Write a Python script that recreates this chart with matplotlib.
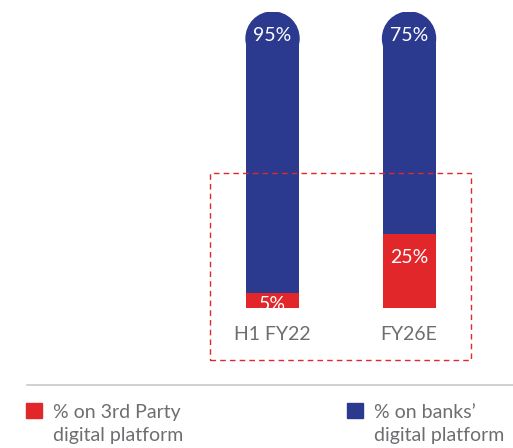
import matplotlib
matplotlib.use("Agg")
import matplotlib.pyplot as plt
from matplotlib.patches import Ellipse, Rectangle
from matplotlib.lines import Line2D

categories = ["H1 FY22", "FY26E"]
third_party = [5, 25]
banks = [95, 75]
legend_labels = ["% on 3rd Party\ndigital platform", "% on banks’\ndigital platform"]

RED = "#e1272a"
BLUE = "#2b3a8f"
GRAY = "#6d6e71"
plt.rcParams["font.family"] = ["Lato", "DejaVu Sans"]

W, H = 513, 448
fig = plt.figure(figsize=(W / 100, H / 100), dpi=100)
# axes box in pixels: x 210..471, y 12..308
ax = fig.add_axes([210 / W, (H - 308) / H, (471 - 210) / W, (308 - 12) / H])
ax.set_xlim(-0.458, 1.454)
ax.set_ylim(0, 100)
bw = 53 / 136.5
# radius of the rounded top in data units (half bar width in pixels)
r_data = (53 / 2) / (296 / 100)

x = list(range(len(categories)))
ax.bar(x, third_party, width=bw, color=RED, zorder=2)
tops = [t + b for t, b in zip(third_party, banks)]
ax.bar(x, [b - r_data for b in banks], bottom=third_party, width=bw, color=BLUE, zorder=2)
for xi, top in zip(x, tops):
    ax.add_patch(Ellipse((xi, top - r_data), bw, 2 * r_data, color=BLUE, zorder=2))

for xi, r, b, top in zip(x, third_party, banks, tops):
    ax.text(xi, top - 8, f"{b}%", color="white", ha="center", va="center",
            fontsize=14, zorder=3)
    # small segment: label sits low and gets cut by the bar bottom
    ry = r - 8 if r > 10 else r * 0.25
    ax.text(xi, ry, f"{r}%", color="white", ha="center", va="center",
            fontsize=14, zorder=3, clip_on=True)

ax.set_xticks(x)
ax.set_xticklabels(categories, fontsize=14, color=GRAY)
ax.tick_params(axis="x", length=0, pad=13)
ax.set_yticks([])
for s in ax.spines.values():
    s.set_visible(False)

# dashed highlight box
fig.patches.append(Rectangle((210 / W, (H - 360) / H), (471 - 210) / W, (360 - 173) / H,
                             transform=fig.transFigure, fill=False, edgecolor=RED,
                             linestyle=(0, (4, 3)), linewidth=1))
# separator
fig.lines.append(Line2D([27 / W, 1], [(H - 385) / H] * 2, transform=fig.transFigure,
                        color="#c8c8c8", linewidth=1.2))

# legend
for lx, col, lab in zip([26, 347], [RED, BLUE], legend_labels):
    fig.patches.append(Rectangle((lx / W, (H - 418) / H), 16 / W, 15 / H,
                                 transform=fig.transFigure, color=col))
    l1, l2 = lab.split("\n")
    fig.text((lx + 27) / W, (H - 418) / H, l1, fontsize=14, color=GRAY,
             va="baseline")
    fig.text((lx + 27) / W, (H - 441) / H, l2, fontsize=14, color=GRAY,
             va="baseline")

fig.savefig("out.png", dpi=100)
